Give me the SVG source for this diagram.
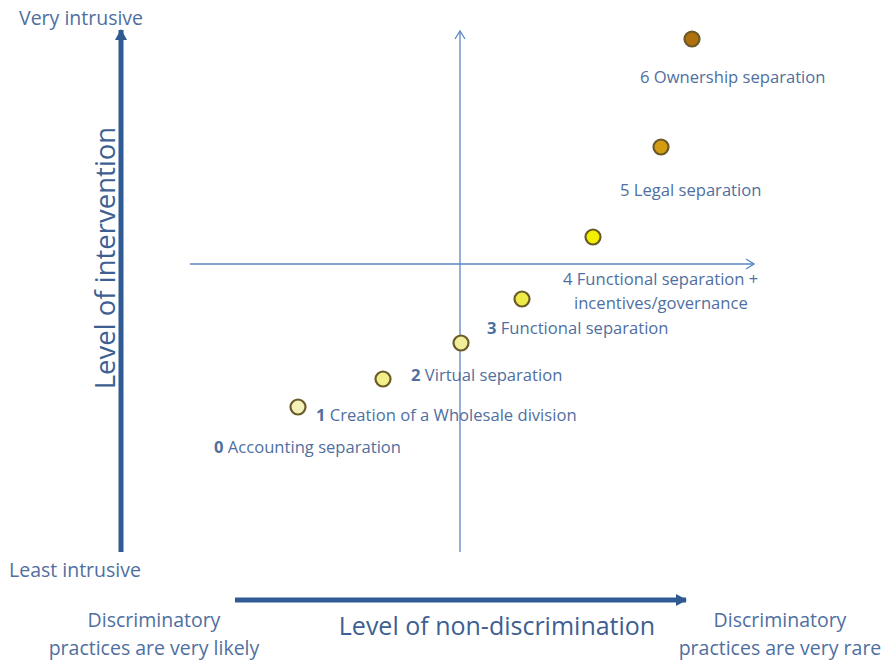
<svg xmlns="http://www.w3.org/2000/svg" width="884" height="661" viewBox="0 0 884 661">
<defs>
<style>
text{font-family:"Open Sans","Liberation Sans",sans-serif;fill:#4f6f9f}
.lbl{font-size:16.6px}
.big{font-size:25px;fill:#3e5f92}
.vbig{font-size:27.5px;fill:#3e5f92}
.side{font-size:19.5px}
.b{font-weight:bold}
.thin{stroke:#5b86c4;stroke-width:1.3;fill:none}
.thick{stroke:#2f5a92;stroke-width:5;fill:none}
.dot{stroke:#6a5a28;stroke-width:2.2}
</style>
<marker id="th" markerWidth="10" markerHeight="12" refX="9" refY="6" orient="auto" markerUnits="userSpaceOnUse"><path d="M1,1 L9,6 L1,11" fill="none" stroke="#5b86c4" stroke-width="1.3"/></marker>
<marker id="tk" markerWidth="12" markerHeight="12" refX="10" refY="6" orient="auto" markerUnits="userSpaceOnUse"><path d="M0,0 L11,6 L0,12 Z" fill="#2f5a92"/></marker>
</defs>
<rect width="884" height="661" fill="#fff"/>
<g id="connectors">
<line class="thick" x1="121" y1="552" x2="121" y2="30" marker-end="url(#tk)"/>
<line class="thick" x1="235" y1="600" x2="686" y2="600" marker-end="url(#tk)"/>
<line class="thin" x1="460" y1="552" x2="460" y2="31" marker-end="url(#th)"/>
<line class="thin" x1="190" y1="264" x2="754" y2="264" marker-end="url(#th)"/>
</g>
<g id="axis-labels">
<text class="side" x="19" y="25">Very intrusive</text>
<text class="side" x="9" y="577">Least intrusive</text>
<text class="vbig" transform="translate(115,258) rotate(-90)" text-anchor="middle">Level of intervention</text>
<text class="big" x="497" y="635" text-anchor="middle">Level of non-discrimination</text>
<text class="side" x="154" y="627" text-anchor="middle">Discriminatory</text>
<text class="side" x="154" y="655" text-anchor="middle">practices are very likely</text>
<text class="side" x="780" y="627" text-anchor="middle">Discriminatory</text>
<text class="side" x="780" y="655" text-anchor="middle">practices are very rare</text>
</g>
<g id="n0"><circle class="dot" cx="298" cy="407" r="7.5" fill="#f4f2b8"/><text class="lbl" x="214" y="453"><tspan class="b">0</tspan> Accounting separation</text></g>
<g id="n1"><circle class="dot" cx="383" cy="379" r="7.5" fill="#f2ee8a"/><text class="lbl" x="316" y="421"><tspan class="b">1</tspan> Creation of a Wholesale division</text></g>
<g id="n2"><circle class="dot" cx="461" cy="343" r="7.5" fill="#f0ee9a"/><text class="lbl" x="411" y="381"><tspan class="b">2</tspan> Virtual separation</text></g>
<g id="n3"><circle class="dot" cx="522" cy="299" r="7.5" fill="#eeea4a"/><text class="lbl" x="487" y="334"><tspan class="b">3</tspan> Functional separation</text></g>
<g id="n4"><circle class="dot" cx="593" cy="237" r="7.5" fill="#f2f000"/><text class="lbl" x="563" y="285">4 Functional separation +</text><text class="lbl" x="574" y="309">incentives/governance</text></g>
<g id="n5"><circle class="dot" cx="661" cy="147" r="7.5" fill="#d49c12"/><text class="lbl" x="620" y="196">5 Legal separation</text></g>
<g id="n6"><circle class="dot" cx="692" cy="39" r="7.5" fill="#b0700c"/><text class="lbl" x="640" y="83">6 Ownership separation</text></g>
</svg>
